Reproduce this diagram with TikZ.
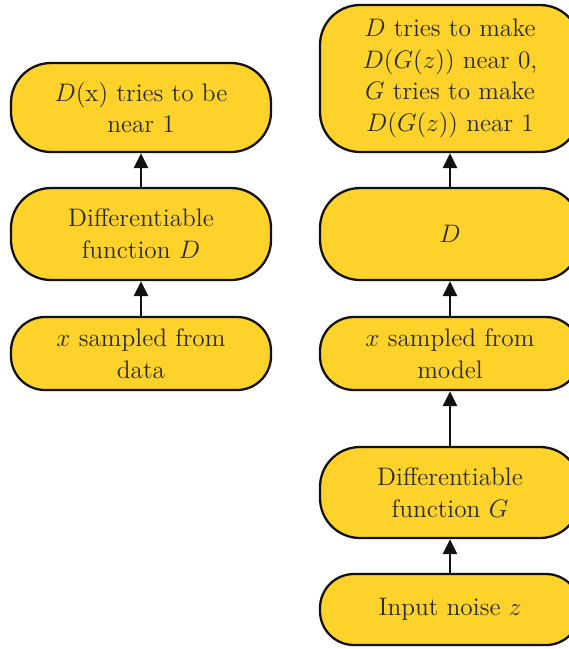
\documentclass[tikz,border=0pt]{standalone}
\usepackage{amsmath,amssymb}
\usepackage{tikz}
\usepackage{xcolor}
\usetikzlibrary{arrows.meta}
\newlength{\boxwidth}
\newlength{\cornerradius}
\newlength{\smallradius}
\setlength{\boxwidth}{5.2cm}
\setlength{\cornerradius}{0.8cm}
\setlength{\smallradius}{0.68cm}
\definecolor{background}{RGB}{255, 255, 255}
\definecolor{boxfill}{HTML}{FDD22B}
\definecolor{boxline}{HTML}{111111}
\definecolor{mainfont}{HTML}{2A2A2A}
\tikzset{
  ganbox/.style={draw=boxline, fill=boxfill, line width=1.3pt, rounded corners=\cornerradius,
    minimum width=\boxwidth, align=center, font=\Large, text=mainfont, inner sep=0pt},
  thinbox/.style={ganbox, rounded corners=\smallradius},
  flow/.style={draw=boxline, line width=1.3pt, -{Triangle[length=3mm,width=2.8mm]}}
}

\begin{document}
\begin{tikzpicture}
				% Boundary box
				\fill[background] (0,0) rectangle (11.38,-12.98);
				\useasboundingbox (0,0) rectangle (11.38,-12.98);

				% Discriminator on real data (left)
				\node[thinbox, minimum height=1.46cm] (realx) at (2.82,-7.07) {$x$ sampled from\\data};
				\node[ganbox, minimum height=1.84cm] (realD) at (2.82,-4.68) {Differentiable\\function $D$};
				\node[ganbox, minimum height=1.78cm] (realout) at (2.82,-2.15) {$D$(x) tries to be\\near 1};

				% Generator and discriminator on model samples (right)
				\node[thinbox, minimum height=1.42cm] (noise) at (9.0,-12.19) {Input noise $z$};
				\node[ganbox, minimum height=1.82cm] (genG) at (9.0,-9.85) {Differentiable\\function $G$};
				\node[thinbox, minimum height=1.46cm] (fakex) at (9.0,-7.07) {$x$ sampled from\\model};
				\node[ganbox, minimum height=1.84cm] (fakeD) at (9.0,-4.68) {$D$};
				\node[ganbox, minimum height=2.94cm] (fakeout) at (9.0,-1.57) {$D$ tries to make\\$D(G(z))$ near 0,\\$G$ tries to make\\$D(G(z))$ near 1};

				% Arrows
				\draw[flow] (realx) -- (realD);
				\draw[flow] (realD) -- (realout);
				\draw[flow] (noise) -- (genG);
				\draw[flow] (genG) -- (fakex);
				\draw[flow] (fakex) -- (fakeD);
				\draw[flow] (fakeD) -- (fakeout);
			\end{tikzpicture}
\end{document}
